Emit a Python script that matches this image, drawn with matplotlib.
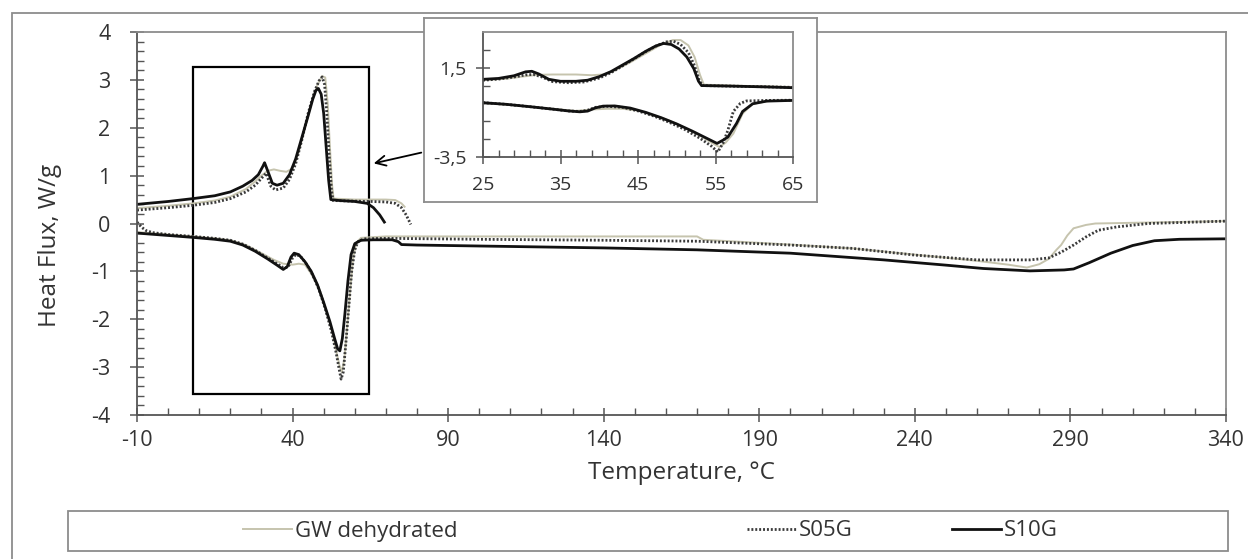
import numpy as np
import matplotlib
matplotlib.use('Agg')
import matplotlib.pyplot as plt
from matplotlib.patches import Rectangle
from matplotlib.ticker import FixedLocator, FuncFormatter

plt.rcParams['font.family'] = ['Open Sans', 'DejaVu Sans']
plt.rcParams['axes.unicode_minus'] = False

# cooling runs (upper curves), temperature in C, heat flux in W/g
gw_cool_t = [-10, 0, 8, 15, 20, 25, 28, 30, 32, 34, 36, 38, 40, 42, 44, 46, 48, 49.5, 50.5, 51.3, 52, 52.7, 53.2, 60, 70, 73, 75, 76]
gw_cool_q = [0.32, 0.37, 0.42, 0.48, 0.56, 0.72, 0.88, 1.00, 1.10, 1.13, 1.10, 1.08, 1.15, 1.50, 2.00, 2.50, 2.90, 3.08, 3.05, 2.50, 1.60, 0.80, 0.52, 0.50, 0.50, 0.49, 0.42, 0.35]

s05_cool_t = [-10, 0, 8, 15, 20, 25, 28, 30.5, 31.5, 33, 34.5, 37, 39, 41, 43, 45, 47, 48.5, 49.5, 50.3, 51, 51.8, 52.5, 53, 58, 65, 70, 73, 75, 76.5, 78]
s05_cool_q = [0.28, 0.33, 0.38, 0.44, 0.52, 0.66, 0.80, 0.98, 1.05, 0.78, 0.70, 0.74, 0.92, 1.25, 1.75, 2.30, 2.75, 2.98, 3.06, 2.90, 2.30, 1.40, 0.70, 0.48, 0.47, 0.46, 0.45, 0.42, 0.33, 0.18, -0.02]

s10_cool_t = [-10, 0, 8, 15, 20, 24, 27, 29, 30.5, 31, 32, 33.5, 35, 37, 39, 41, 43, 45, 46.5, 47.5, 48.3, 49.2, 50, 50.8, 51.6, 52.3, 55, 60, 64, 66, 68, 69.5]
s10_cool_q = [0.40, 0.46, 0.52, 0.58, 0.66, 0.78, 0.90, 1.02, 1.20, 1.27, 1.10, 0.84, 0.80, 0.84, 1.02, 1.35, 1.80, 2.25, 2.60, 2.78, 2.82, 2.70, 2.30, 1.60, 0.90, 0.50, 0.48, 0.46, 0.42, 0.33, 0.18, 0.03]

# heating runs (lower curves)
gw_heat_t = [-10, 0, 8, 15, 20, 25, 30, 34, 37, 40, 42, 44, 46, 48.5, 50.5, 52.5, 54, 55, 55.8, 56.6, 57.5, 58.5, 59.5, 60.5, 62, 70, 100, 140, 170, 172, 200, 220, 240, 260, 270, 276, 280, 283, 285.5, 287, 289, 291, 295, 298, 340]
gw_heat_q = [-0.18, -0.23, -0.27, -0.31, -0.35, -0.45, -0.62, -0.76, -0.84, -0.86, -0.84, -0.86, -1.05, -1.35, -1.75, -2.20, -2.65, -2.95, -3.10, -2.85, -2.20, -1.40, -0.70, -0.40, -0.30, -0.27, -0.27, -0.27, -0.27, -0.34, -0.44, -0.52, -0.65, -0.78, -0.86, -0.92, -0.85, -0.74, -0.55, -0.45, -0.25, -0.10, -0.03, 0.00, 0.05]

s05_heat_t = [-10, -8.5, -7, -5, 0, 8, 15, 20, 24, 28, 32, 35, 37, 38.5, 40, 41, 42.5, 44.5, 46.5, 48.5, 50.5, 52.5, 54, 55, 55.6, 56.3, 57, 58, 59, 60, 61, 63, 70, 100, 140, 170, 200, 220, 240, 260, 277, 283, 287, 291, 295, 299, 305, 315, 340]
s05_heat_q = [0.03, -0.08, -0.15, -0.19, -0.23, -0.27, -0.31, -0.35, -0.43, -0.56, -0.72, -0.84, -0.92, -0.92, -0.72, -0.65, -0.68, -0.85, -1.08, -1.38, -1.78, -2.25, -2.70, -3.05, -3.25, -3.10, -2.60, -1.80, -1.00, -0.55, -0.38, -0.32, -0.31, -0.33, -0.35, -0.37, -0.45, -0.52, -0.66, -0.76, -0.76, -0.72, -0.60, -0.45, -0.28, -0.14, -0.07, 0.00, 0.05]

s10_heat_t = [-10, 0, 8, 15, 20, 24, 28, 32, 35, 37, 38.3, 39.5, 40.5, 42, 44, 46, 48, 50, 52, 53.5, 54.5, 55.2, 56, 56.8, 57.8, 58.8, 60, 62, 66, 72, 74, 75, 80, 100, 140, 170, 200, 230, 250, 262, 277, 288, 291, 296, 303, 310, 317, 325, 340]
s10_heat_q = [-0.20, -0.25, -0.29, -0.33, -0.37, -0.45, -0.58, -0.74, -0.87, -0.96, -0.90, -0.70, -0.62, -0.65, -0.80, -1.00, -1.28, -1.65, -2.05, -2.40, -2.62, -2.66, -2.40, -1.90, -1.20, -0.65, -0.42, -0.35, -0.34, -0.34, -0.38, -0.44, -0.45, -0.47, -0.51, -0.55, -0.62, -0.76, -0.87, -0.94, -0.99, -0.97, -0.95, -0.82, -0.62, -0.46, -0.36, -0.33, -0.32]

# enlarged transition region 25-65 C
gw_in_up_t = [25, 28, 30, 32, 34, 37, 39, 40.5, 42, 44, 46, 48, 49.5, 50.5, 51.5, 52.3, 53, 53.5, 57, 65]
gw_in_up_q = [0.82, 0.88, 1.00, 1.10, 1.12, 1.12, 1.08, 1.12, 1.35, 1.80, 2.30, 2.80, 3.05, 3.05, 2.75, 2.10, 1.10, 0.55, 0.50, 0.42]
s05_in_up_t = [25, 27, 29, 30.5, 31.5, 32.5, 34, 36, 38, 40, 41.5, 43, 44.5, 46, 47.5, 48.7, 49.6, 50.5, 51.5, 52.3, 52.9, 53.3, 57, 65]
s05_in_up_q = [0.80, 0.86, 0.98, 1.10, 1.12, 1.00, 0.72, 0.66, 0.70, 0.92, 1.22, 1.60, 2.00, 2.40, 2.75, 2.95, 2.98, 2.80, 2.35, 1.60, 0.80, 0.50, 0.47, 0.40]
s10_in_up_t = [25, 27, 29, 30.5, 31.3, 32.2, 33.5, 35, 37, 38.5, 40, 41.5, 43, 44.5, 46, 47.3, 48.3, 49.3, 50.3, 51.3, 52.2, 52.8, 53.2, 57, 61, 65]
s10_in_up_q = [0.85, 0.90, 1.05, 1.27, 1.30, 1.15, 0.85, 0.74, 0.74, 0.80, 1.00, 1.28, 1.65, 2.02, 2.42, 2.72, 2.86, 2.80, 2.55, 2.10, 1.45, 0.75, 0.50, 0.47, 0.43, 0.38]

gw_in_lo_t = [25, 30, 34, 37, 39, 41, 43, 45, 47, 49, 51, 53, 54.5, 55.5, 56.3, 57.3, 58.5, 59.8, 62, 65]
gw_in_lo_q = [-0.47, -0.64, -0.80, -0.92, -0.84, -0.80, -0.80, -0.90, -1.15, -1.45, -1.85, -2.30, -2.70, -2.94, -2.70, -2.19, -1.07, -0.52, -0.36, -0.33]
s05_in_lo_t = [25, 28, 31, 34, 36, 37.5, 38.5, 39.5, 41, 43, 45, 47, 49, 51, 53, 54.5, 55.3, 56, 56.6, 57.3, 58.2, 59, 62, 65]
s05_in_lo_q = [-0.46, -0.55, -0.68, -0.82, -0.92, -0.95, -0.88, -0.72, -0.66, -0.72, -0.92, -1.20, -1.55, -1.95, -2.45, -2.90, -3.22, -2.70, -2.00, -0.95, -0.50, -0.36, -0.33, -0.32]
s10_in_lo_t = [25, 28, 31, 34, 36, 37.5, 38.5, 39.5, 40.5, 42, 44, 46, 48, 50, 52, 54, 55.2, 56, 56.6, 57.7, 58.5, 59.8, 61.6, 65]
s10_in_lo_q = [-0.46, -0.55, -0.68, -0.82, -0.92, -0.97, -0.93, -0.75, -0.65, -0.64, -0.76, -1.00, -1.30, -1.65, -2.05, -2.48, -2.74, -2.55, -2.38, -1.63, -0.95, -0.52, -0.37, -0.33]

main_xticks = [-10, 40, 90, 140, 190, 240, 290, 340]
inset_xticks = [25, 35, 45, 55, 65]
inset_yticks = [-3.5, 1.5]

gw_col = '#c6c4ae'
dot_col = '#3a3a3a'
sol_col = '#111111'
txt_col = '#333333'
axis_col = '#555555'
frame_col = '#8c8c8c'
dots = (0, (0.7, 0.7))

W, H = 1248, 559
fig = plt.figure(figsize=(W / 100, H / 100), dpi=100)

def fx(px):
    return px / W

def fy(py):
    return 1 - py / H

def style_axes(a, size):
    a.tick_params(which='major', direction='inout', length=10, width=1.1, color=axis_col,
                  labelsize=size, labelcolor=txt_col)
    a.tick_params(which='minor', direction='in', length=5, width=1.0, color=axis_col)
    for s in ['left', 'bottom']:
        a.spines[s].set_color(axis_col)
        a.spines[s].set_linewidth(1.3)
    for s in ['top', 'right']:
        a.spines[s].set_color(frame_col)
        a.spines[s].set_linewidth(1.3)

# outer chart frame
fig.patches.append(Rectangle((fx(12), fy(600)), fx(1300) - fx(12), fy(13) - fy(600),
                             transform=fig.transFigure, fill=False, edgecolor=frame_col, lw=1.3))

ax = fig.add_axes([fx(137), fy(415), fx(1226) - fx(137), fy(32) - fy(415)])
ax.plot(gw_cool_t, gw_cool_q, color=gw_col, lw=1.4, label='GW dehydrated')
ax.plot(gw_heat_t, gw_heat_q, color=gw_col, lw=1.4)
ax.plot(s05_cool_t, s05_cool_q, color=dot_col, lw=2.0, ls=dots, label='S05G')
ax.plot(s05_heat_t, s05_heat_q, color=dot_col, lw=2.0, ls=dots)
ax.plot(s10_cool_t, s10_cool_q, color=sol_col, lw=2.0, label='S10G')
ax.plot(s10_heat_t, s10_heat_q, color=sol_col, lw=2.0)

ax.add_patch(Rectangle((8, -3.56), 56.5, 6.83, fill=False, edgecolor='black', lw=1.6))

ax.set_xlim(-10, 340)
ax.set_ylim(-4, 4)
ax.xaxis.set_major_locator(FixedLocator(main_xticks))
ax.xaxis.set_minor_locator(FixedLocator(np.arange(-10, 341, 10)))
ax.yaxis.set_major_locator(FixedLocator(np.arange(-4, 5, 1)))
ax.yaxis.set_minor_locator(FixedLocator(np.arange(-4, 4.01, 0.2)))
style_axes(ax, 15.5)
ax.tick_params(axis='x', which='major', pad=6)
ax.tick_params(axis='y', which='major', pad=14)
ax.set_xlabel('Temperature, °C', fontsize=17.5, color=txt_col)
ax.set_ylabel('Heat Flux, W/g', fontsize=17.5, color=txt_col)
ax.xaxis.set_label_coords(0.5, -0.12)
ax.yaxis.set_label_coords(-0.069, 0.444)

# legend box along the bottom
fig.patches.append(Rectangle((fx(68), fy(551)), fx(1228) - fx(68), fy(511) - fy(551),
                             transform=fig.transFigure, fill=False, edgecolor=frame_col, lw=1.3))
handles, labels = ax.get_legend_handles_labels()
centers = [350, 800, 1005]
for h, lab, cx in zip(handles, labels, centers):
    fig.legend([h], [lab], loc='center', bbox_to_anchor=(fx(cx), fy(531)), frameon=False,
               fontsize=16, handlelength=2.2, handletextpad=0.15, labelcolor=txt_col)

# zoomed-in view of the phase change region
box = fig.add_axes([fx(424), fy(202), fx(817) - fx(424), fy(18) - fy(202)], zorder=2)
box.set_xticks([])
box.set_yticks([])
box.set_facecolor('white')
for s in box.spines.values():
    s.set_color(frame_col)
    s.set_linewidth(1.3)

ins = fig.add_axes([fx(483), fy(157), fx(793) - fx(483), fy(32) - fy(157)], zorder=3)
ins.plot(gw_in_up_t, gw_in_up_q, color=gw_col, lw=1.4)
ins.plot(gw_in_lo_t, gw_in_lo_q, color=gw_col, lw=1.4)
ins.plot(s05_in_up_t, s05_in_up_q, color=dot_col, lw=2.0, ls=dots)
ins.plot(s05_in_lo_t, s05_in_lo_q, color=dot_col, lw=2.0, ls=dots)
ins.plot(s10_in_up_t, s10_in_up_q, color=sol_col, lw=2.0)
ins.plot(s10_in_lo_t, s10_in_lo_q, color=sol_col, lw=2.0)
ins.set_xlim(25, 65)
ins.set_ylim(-3.5, 3.5)
ins.xaxis.set_major_locator(FixedLocator(inset_xticks))
ins.xaxis.set_minor_locator(FixedLocator(np.arange(25, 66, 2)))
ins.yaxis.set_major_locator(FixedLocator(inset_yticks))
ins.yaxis.set_minor_locator(FixedLocator([-2.5, -1.5, -0.5, 0.5, 2.5]))
ins.yaxis.set_major_formatter(FuncFormatter(lambda v, p: ('%.1f' % v).replace('.', ',')))
style_axes(ins, 14)
ins.tick_params(axis='x', which='major', pad=9)
ins.tick_params(axis='y', which='major', pad=7)

ax.annotate('', xy=(fx(371), fy(164)), xytext=(fx(424), fy(152)),
            xycoords='figure fraction', textcoords='figure fraction',
            arrowprops=dict(arrowstyle='->', color='black', lw=1.3, mutation_scale=18))

fig.savefig('out.png', dpi=100)
